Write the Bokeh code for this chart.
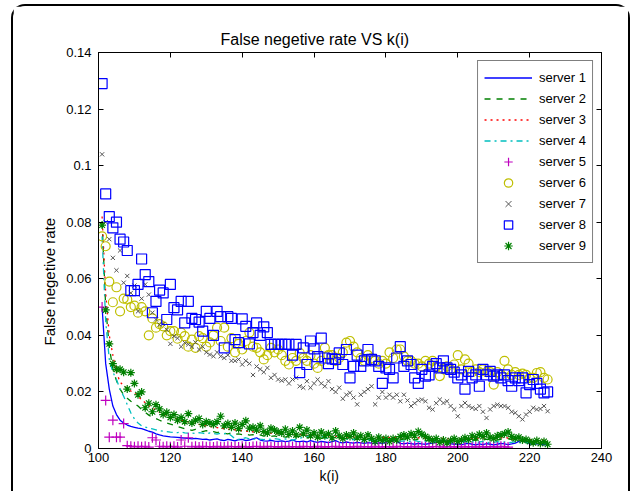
from bokeh.plotting import figure
from bokeh.models import LinearAxis, FixedTicker, NumeralTickFormatter, CustomJSTickFormatter, Title
from bokeh.embed import file_html
from bokeh.resources import INLINE

K = list(range(101, 226))
K5 = list(range(101, 215))

s1 = [0.050, 0.030, 0.021, 0.015, 0.012, 0.0100, 0.0090, 0.0083, 0.0078, 0.0075,
      0.0072, 0.0070, 0.0066, 0.0061, 0.0058, 0.0052, 0.0048, 0.0045, 0.0043, 0.0041,
      0.0040, 0.0039, 0.0038, 0.0037, 0.0036, 0.0034, 0.0036, 0.0034, 0.0032, 0.0033,
      0.0030, 0.0032, 0.0034, 0.0030, 0.0028, 0.0032, 0.0030, 0.0027, 0.0031, 0.0032,
      0.0028, 0.0030, 0.0034, 0.0038, 0.0030, 0.0027, 0.0026, 0.0029, 0.0026, 0.0025,
      0.0027, 0.0024, 0.0026, 0.0030, 0.0025, 0.0024, 0.0026, 0.0023, 0.0028, 0.0024,
      0.0022, 0.0025, 0.0023, 0.0021, 0.0024, 0.0028, 0.0022, 0.0020, 0.0023, 0.0021,
      0.0019, 0.0022, 0.0020, 0.0018, 0.0021, 0.0019, 0.0017, 0.0020, 0.0018, 0.0022,
      0.0026, 0.0030, 0.0024, 0.0018, 0.0016, 0.0019, 0.0017, 0.0015, 0.0018, 0.0016,
      0.0015, 0.0017, 0.0019, 0.0022, 0.0028, 0.0030, 0.0024, 0.0017, 0.0015, 0.0016,
      0.0014, 0.0016, 0.0018, 0.0015, 0.0013, 0.0016, 0.0014, 0.0017, 0.0015, 0.0013,
      0.0015, 0.0018, 0.0016, 0.0014, 0.0016, 0.0019, 0.0025, 0.0030, 0.0022, 0.0016,
      0.0014, 0.0017, 0.0015, 0.0013, 0.0014]

s2 = [0.080, 0.050, 0.036, 0.028, 0.024, 0.021, 0.019, 0.0178, 0.0167, 0.0158,
      0.0150, 0.0138, 0.0128, 0.0118, 0.0110, 0.0106, 0.0100, 0.0094, 0.0090, 0.0086,
      0.0082, 0.0078, 0.0074, 0.0070, 0.0067, 0.0064, 0.0068, 0.0062, 0.0060, 0.0063,
      0.0058, 0.0060, 0.0056, 0.0059, 0.0054, 0.0052, 0.0055, 0.0050, 0.0052, 0.0049,
      0.0051, 0.0047, 0.0049, 0.0046, 0.0048, 0.0044, 0.0046, 0.0043, 0.0045, 0.0041,
      0.0043, 0.0040, 0.0042, 0.0039, 0.0041, 0.0044, 0.0040, 0.0038, 0.0040, 0.0037,
      0.0039, 0.0036, 0.0038, 0.0035, 0.0037, 0.0039, 0.0035, 0.0033, 0.0036, 0.0034,
      0.0035, 0.0033, 0.0034, 0.0031, 0.0033, 0.0035, 0.0032, 0.0030, 0.0032, 0.0031,
      0.0030, 0.0032, 0.0029, 0.0031, 0.0033, 0.0035, 0.0032, 0.0030, 0.0033, 0.0031,
      0.0029, 0.0027, 0.0028, 0.0026, 0.0025, 0.0027, 0.0024, 0.0026, 0.0027, 0.0025,
      0.0026, 0.0028, 0.0027, 0.0030, 0.0029, 0.0031, 0.0030, 0.0033, 0.0031, 0.0029,
      0.0030, 0.0032, 0.0033, 0.0035, 0.0031, 0.0029, 0.0030, 0.0027, 0.0026, 0.0024,
      0.0022, 0.0024, 0.0021, 0.0022, 0.0020]

s3 = [0.082, 0.055, 0.040, 0.033, 0.027, 0.0235, 0.0222, 0.0212, 0.0203, 0.0197,
      0.0185, 0.0172, 0.0162, 0.0152, 0.0143, 0.0136, 0.0128, 0.0122, 0.0117, 0.0112,
      0.0108, 0.0104, 0.0100, 0.0097, 0.0094, 0.0090, 0.0088, 0.0085, 0.0082, 0.0080,
      0.0078, 0.0076, 0.0074, 0.0072, 0.0070, 0.0069, 0.0067, 0.0066, 0.0064, 0.0063,
      0.0062, 0.0060, 0.0059, 0.0058, 0.0057, 0.0056, 0.0055, 0.0054, 0.0053, 0.0052,
      0.0051, 0.0050, 0.0052, 0.0049, 0.0048, 0.0050, 0.0047, 0.0046, 0.0048, 0.0045,
      0.0044, 0.0046, 0.0043, 0.0045, 0.0042, 0.0044, 0.0041, 0.0043, 0.0040, 0.0042,
      0.0041, 0.0039, 0.0042, 0.0040, 0.0038, 0.0041, 0.0039, 0.0037, 0.0040, 0.0038,
      0.0039, 0.0037, 0.0040, 0.0038, 0.0036, 0.0039, 0.0037, 0.0040, 0.0038, 0.0036,
      0.0037, 0.0035, 0.0038, 0.0036, 0.0034, 0.0037, 0.0035, 0.0033, 0.0036, 0.0034,
      0.0035, 0.0037, 0.0034, 0.0036, 0.0038, 0.0035, 0.0037, 0.0039, 0.0036, 0.0034,
      0.0036, 0.0038, 0.0040, 0.0037, 0.0035, 0.0033, 0.0036, 0.0034, 0.0032, 0.0031,
      0.0030, 0.0032, 0.0029, 0.0031, 0.0028]

s4 = [0.075, 0.045, 0.0315, 0.027, 0.0244, 0.021, 0.0185, 0.0155, 0.0126, 0.0105,
      0.0090, 0.0080, 0.0076, 0.0072, 0.0069, 0.0066, 0.0063, 0.0061, 0.0060, 0.0058,
      0.0057, 0.0056, 0.0058, 0.0055, 0.0054, 0.0055, 0.0053, 0.0056, 0.0054, 0.0052,
      0.0055, 0.0053, 0.0051, 0.0054, 0.0052, 0.0055, 0.0045, 0.0034, 0.0032, 0.0035,
      0.0038, 0.0034, 0.0032, 0.0036, 0.0033, 0.0031, 0.0034, 0.0032, 0.0035, 0.0033,
      0.0031, 0.0034, 0.0032, 0.0030, 0.0033, 0.0036, 0.0040, 0.0044, 0.0045, 0.0043,
      0.0045, 0.0044, 0.0038, 0.0035, 0.0040, 0.0045, 0.0046, 0.0038, 0.0034, 0.0032,
      0.0031, 0.0033, 0.0030, 0.0029, 0.0031, 0.0028, 0.0030, 0.0027, 0.0029, 0.0026,
      0.0028, 0.0030, 0.0027, 0.0025, 0.0027, 0.0024, 0.0026, 0.0028, 0.0025, 0.0023,
      0.0025, 0.0024, 0.0026, 0.0023, 0.0025, 0.0027, 0.0024, 0.0022, 0.0024, 0.0021,
      0.0023, 0.0025, 0.0022, 0.0024, 0.0021, 0.0023, 0.0025, 0.0022, 0.0020, 0.0022,
      0.0024, 0.0021, 0.0023, 0.0020, 0.0022, 0.0024, 0.0021, 0.0019, 0.0021, 0.0020,
      0.0018, 0.0020, 0.0019, 0.0017, 0.0018]

s5 = [0.050, 0.017, 0.004, 0.010, 0.004, 0.004, 0.0088, 0.0010, 0.0008, 0.0006,
      0.0008, 0.0006, 0.0008, 0.0005, 0.0038, 0.0030, 0.0008, 0.0006, 0.0008, 0.0006,
      0.0008, 0.0005, 0.0030, 0.0008, 0.0038, 0.0006, 0.0008, 0.0005, 0.0008, 0.0006,
      0.0007, 0.0005, 0.0008, 0.0006, 0.0005, 0.0008, 0.0006, 0.0007, 0.0005, 0.0008,
      0.0006, 0.0005, 0.0007, 0.0008, 0.0006, 0.0005, 0.0008, 0.0006, 0.0007, 0.0005,
      0.0006, 0.0008, 0.0005, 0.0007, 0.0006, 0.0005, 0.0008, 0.0006, 0.0007, 0.0005,
      0.0008, 0.0006, 0.0005, 0.0007, 0.0006, 0.0008, 0.0005, 0.0006, 0.0007, 0.0005,
      0.0006, 0.0008, 0.0005, 0.0007, 0.0006, 0.0005, 0.0008, 0.0006, 0.0005, 0.0007,
      0.0006, 0.0005, 0.0008, 0.0006, 0.0007, 0.0005, 0.0006, 0.0008, 0.0005, 0.0007,
      0.0006, 0.0005, 0.0007, 0.0006, 0.0008, 0.0005, 0.0006, 0.0007, 0.0005, 0.0006,
      0.0008, 0.0005, 0.0007, 0.0006, 0.0005, 0.0008, 0.0006, 0.0005, 0.0007, 0.0006,
      0.0005, 0.0008, 0.0006, 0.0005]

s6 = [0.075, 0.0715, 0.059, 0.0517, 0.057, 0.0485, 0.053, 0.0527, 0.050, 0.0505,
      0.048, 0.050, 0.0485, 0.040, 0.046, 0.0427, 0.044, 0.0432, 0.040, 0.0415,
      0.0415, 0.0388, 0.041, 0.0397, 0.036, 0.0385, 0.0356, 0.0397, 0.039, 0.036,
      0.0375, 0.040, 0.0427, 0.038, 0.0427, 0.036, 0.039, 0.034, 0.037, 0.035,
      0.038, 0.041, 0.036, 0.0356, 0.034, 0.0315, 0.033, 0.0356, 0.034, 0.035,
      0.033, 0.031, 0.0297, 0.032, 0.031, 0.0338, 0.032, 0.031, 0.033, 0.030,
      0.0285, 0.031, 0.0356, 0.033, 0.033, 0.031, 0.032, 0.034, 0.0374, 0.038,
      0.036, 0.034, 0.032, 0.031, 0.033, 0.032, 0.031, 0.030, 0.031, 0.030,
      0.034, 0.032, 0.035, 0.035, 0.0326, 0.031, 0.031, 0.030, 0.030, 0.029,
      0.031, 0.030, 0.031, 0.029, 0.0256, 0.028, 0.029, 0.028, 0.0297, 0.033,
      0.028, 0.0315, 0.030, 0.027, 0.028, 0.027, 0.028, 0.027, 0.027, 0.0226,
      0.027, 0.026, 0.031, 0.028, 0.026, 0.027, 0.026, 0.0265, 0.026, 0.025,
      0.025, 0.0267, 0.027, 0.025, 0.0244]

s7 = [0.104, 0.080, 0.074, 0.0674, 0.063, 0.070, 0.0586, 0.061, 0.055, 0.0576,
      0.0485, 0.053, 0.058, 0.0544, 0.048, 0.0456, 0.0438, 0.044, 0.042, 0.037,
      0.0397, 0.039, 0.036, 0.0374, 0.0368, 0.036, 0.0375, 0.035, 0.036, 0.034,
      0.0332, 0.0326, 0.034, 0.0326, 0.032, 0.033, 0.031, 0.031, 0.0315, 0.0297,
      0.031, 0.030, 0.026, 0.029, 0.028, 0.027, 0.0285, 0.025, 0.026, 0.0244,
      0.024, 0.0244, 0.023, 0.0244, 0.025, 0.022, 0.0215, 0.0238, 0.0215, 0.023,
      0.0244, 0.023, 0.022, 0.0238, 0.021, 0.020, 0.0215, 0.0176, 0.019, 0.0197,
      0.018, 0.0156, 0.019, 0.020, 0.021, 0.022, 0.0156, 0.018, 0.020, 0.018,
      0.019, 0.018, 0.019, 0.0167, 0.019, 0.017, 0.015, 0.016, 0.017, 0.0173,
      0.0167, 0.0144, 0.0138, 0.016, 0.0173, 0.0161, 0.0167, 0.015, 0.0138, 0.0114,
      0.015, 0.0161, 0.015, 0.0144, 0.014, 0.015, 0.013, 0.0108, 0.0138, 0.015,
      0.0155, 0.015, 0.015, 0.0144, 0.013, 0.0126, 0.0114, 0.0103, 0.012, 0.013,
      0.0144, 0.0138, 0.014, 0.015, 0.0132]

s8 = [0.129, 0.090, 0.082, 0.078, 0.080, 0.074, 0.073, 0.070, 0.0558, 0.0558,
      0.058, 0.067, 0.0615, 0.059, 0.048, 0.052, 0.056, 0.055, 0.0456, 0.058,
      0.0498, 0.049, 0.052, 0.0444, 0.052, 0.046, 0.0456, 0.0447, 0.0415, 0.0485,
      0.046, 0.040, 0.0485, 0.0466, 0.0356, 0.0466, 0.046, 0.0385, 0.0374, 0.0458,
      0.0432, 0.037, 0.041, 0.0444, 0.040, 0.043, 0.041, 0.0368, 0.0368, 0.0368,
      0.0368, 0.0368, 0.0368, 0.033, 0.0368, 0.0268, 0.0356, 0.0297, 0.038, 0.0352,
      0.0325, 0.039, 0.032, 0.030, 0.0317, 0.0315, 0.0338, 0.0297, 0.035, 0.025,
      0.029, 0.033, 0.029, 0.031, 0.035, 0.0315, 0.031, 0.029, 0.023, 0.0285,
      0.028, 0.025, 0.032, 0.036, 0.029, 0.031, 0.0297, 0.025, 0.023, 0.028,
      0.0256, 0.026, 0.029, 0.030, 0.0285, 0.031, 0.0285, 0.028, 0.027, 0.025,
      0.026, 0.021, 0.0273, 0.025, 0.026, 0.022, 0.028, 0.026, 0.0273, 0.0256,
      0.026, 0.025, 0.026, 0.024, 0.022, 0.025, 0.024, 0.025, 0.0197, 0.0226,
      0.0244, 0.023, 0.021, 0.0197, 0.020]

s9 = [0.079, 0.049, 0.037, 0.030, 0.028, 0.028, 0.027, 0.021, 0.0268, 0.023,
      0.019, 0.020, 0.0144, 0.016, 0.013, 0.0155, 0.014, 0.012, 0.0128, 0.011,
      0.012, 0.010, 0.011, 0.0095, 0.0123, 0.009, 0.010, 0.0106, 0.0085, 0.0095,
      0.009, 0.0085, 0.0095, 0.0114, 0.008, 0.0088, 0.0075, 0.009, 0.007, 0.0085,
      0.0098, 0.0072, 0.0075, 0.0065, 0.008, 0.006, 0.0055, 0.0072, 0.0065, 0.0058,
      0.0055, 0.0068, 0.005, 0.0062, 0.0048, 0.0075, 0.0052, 0.0065, 0.0045, 0.0055,
      0.004, 0.0058, 0.0045, 0.0052, 0.0038, 0.0062, 0.0045, 0.0035, 0.0048, 0.0042,
      0.0055, 0.0038, 0.0045, 0.0032, 0.0048, 0.0035, 0.0025, 0.004, 0.0028, 0.0035,
      0.0025, 0.0035, 0.003, 0.0042, 0.0048, 0.004, 0.0052, 0.0045, 0.006, 0.005,
      0.0042, 0.0035, 0.0028, 0.0035, 0.0022, 0.003, 0.002, 0.0028, 0.0035, 0.0025,
      0.003, 0.0038, 0.0032, 0.0045, 0.0038, 0.005, 0.0042, 0.0055, 0.004, 0.0035,
      0.0045, 0.0048, 0.0052, 0.0058, 0.0042, 0.0035, 0.004, 0.003, 0.0032, 0.0025,
      0.002, 0.0028, 0.0018, 0.0025, 0.0015]

x_ticks = [100, 120, 140, 160, 180, 200, 220, 240]
y_ticks = [0, 0.02, 0.04, 0.06, 0.08, 0.10, 0.12, 0.14]

FONT = "Liberation Sans"

p = figure(width=619, height=487, x_range=(100, 240), y_range=(0, 0.14),
           output_backend="svg", toolbar_location=None,
           min_border_left=85, min_border_right=31, min_border_top=46, min_border_bottom=45,
           title="False negetive rate VS k(i)")
p.styles = {"margin-left": "4px", "position": "relative", "left": "7px", "top": "4px",
            "border": "2px solid black", "border-bottom": "none",
            "border-radius": "14px 14px 0 0"}
p.xgrid.visible = False
p.ygrid.visible = False
p.outline_line_color = "black"
p.outline_line_width = 1
p.background_fill_color = "white"
p.border_fill_color = "white"

p.title.text_font = FONT
p.title.text_font_size = "16px"
p.title.text_font_style = "normal"
p.title.text_color = "black"
p.title.align = "left"
p.title.offset = 122
p.title.standoff = 10

for ax in (p.xaxis[0], p.yaxis[0]):
    ax.major_label_text_font = FONT
    ax.major_label_text_font_size = "13px"
    ax.major_tick_in = 5
    ax.major_tick_out = 0
    ax.minor_tick_line_color = None
    ax.axis_line_color = "black"
    ax.major_tick_line_color = "black"
    ax.major_label_text_color = "black"

p.xaxis[0].ticker = FixedTicker(ticks=x_ticks)
p.yaxis[0].ticker = FixedTicker(ticks=y_ticks)
p.yaxis[0].formatter = NumeralTickFormatter(format="0.[00]")
p.xaxis[0].major_label_standoff = 4
p.yaxis[0].major_label_standoff = 7

for loc, ticks in (("right", y_ticks), ("above", x_ticks)):
    ax = LinearAxis(ticker=FixedTicker(ticks=ticks),
                    formatter=CustomJSTickFormatter(code="return ''"),
                    major_tick_in=5, major_tick_out=0, minor_tick_line_color=None,
                    axis_line_color="black", major_tick_line_color="black",
                    major_label_standoff=0)
    p.add_layout(ax, loc)

xlab = Title(text="k(i)", align="left", offset=221, text_font=FONT, text_font_size="14px",
             text_font_style="normal", text_color="black", standoff=2)
p.add_layout(xlab, "below")
ylab = Title(text="False negetive rate", align="left", offset=103, text_font=FONT,
             text_font_size="15px", text_font_style="normal", text_color="black", standoff=12)
p.add_layout(ylab, "left")

p.line(K, s1, line_color="#0000ff", line_width=1.3, legend_label="server 1")
p.line(K, s2, line_color="#008000", line_width=1.3, line_dash="dashed", legend_label="server 2")
p.line(K, s3, line_color="#ff0000", line_width=1.3, line_dash="dotted", legend_label="server 3")
p.line(K, s4, line_color="#00bfbf", line_width=1.3, line_dash="dashdot", legend_label="server 4")
p.scatter(K5, s5, marker="cross", size=10, line_color="#bf00bf", line_width=1.2, legend_label="server 5")
p.scatter(K, s6, marker="circle", size=9, fill_color=None, line_color="#bfbf00", line_width=1.2, legend_label="server 6")
p.scatter(K, s7, marker="x", size=6, line_color="#555555", line_width=1, legend_label="server 7")
p.scatter(K, s8, marker="square", size=10, fill_color=None, line_color="#0000ff", line_width=1.2, legend_label="server 8")
p.scatter(K, s9, marker="asterisk", size=8, line_color="#008000", line_width=1.2, legend_label="server 9")

lg = p.legend[0]
lg.location = "top_right"
lg.margin = 8
lg.padding = 6
lg.spacing = 0
lg.glyph_width = 48
lg.glyph_height = 21
lg.label_height = 21
lg.label_standoff = 7
lg.label_text_font = FONT
lg.label_text_font_size = "13px"
lg.label_text_color = "black"
lg.border_line_color = "black"
lg.border_line_width = 1
lg.background_fill_alpha = 1

open("out.html", "w").write(file_html(p, INLINE))
